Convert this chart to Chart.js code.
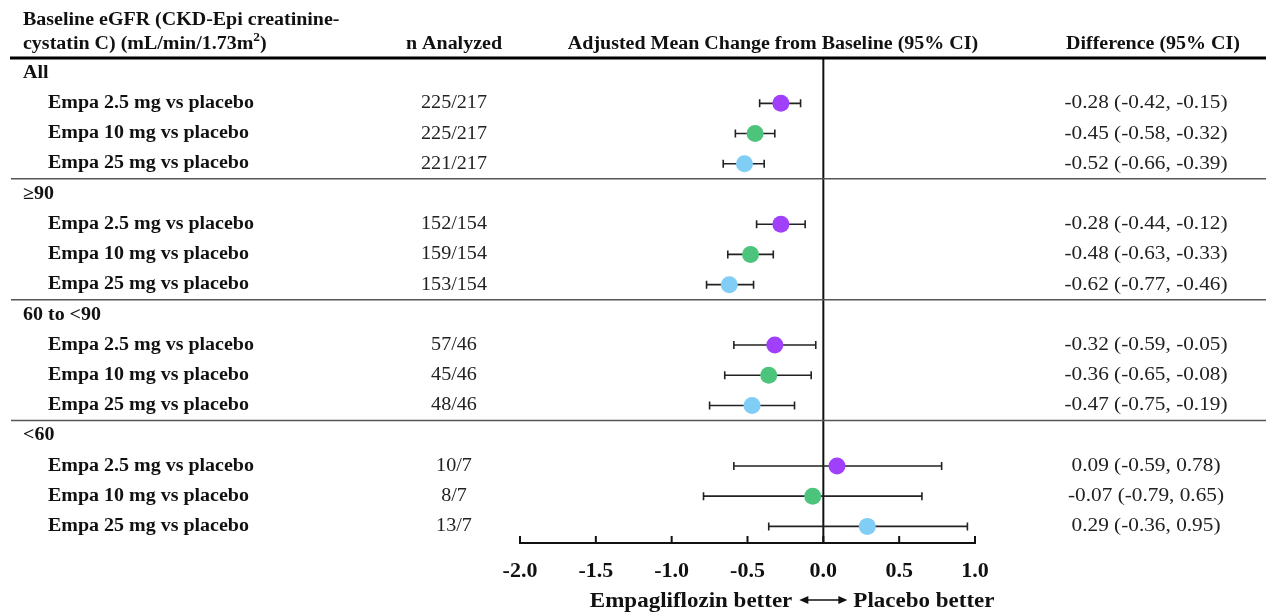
<!DOCTYPE html>
<html>
<head>
<meta charset="utf-8">
<script src="https://cdn.jsdelivr.net/npm/chart.js@4.4.0/dist/chart.umd.min.js"></script>
<style>
  body { margin: 0; background: #fff; }
  #wrap { width: 1266px; height: 612px; position: relative; }
</style>
</head>
<body>
<div id="wrap"><canvas id="forest"></canvas></div>
<script>
// Subgroups and doses
const groups = ['All', '\u226590', '60 to <90', '<60'];
const doses = ['Empa 2.5 mg vs placebo', 'Empa 10 mg vs placebo', 'Empa 25 mg vs placebo'];
const doseColors = ['#a040fb', '#4cc47c', '#80cdf6'];

// n analyzed (empa/placebo) per dose, by subgroup
const n2_5 = ['225/217', '152/154', '57/46', '10/7'];
const n10 = ['225/217', '159/154', '45/46', '8/7'];
const n25 = ['221/217', '153/154', '48/46', '13/7'];

// Difference vs placebo with 95% CI
const diff2_5 = [-0.28, -0.28, -0.32, 0.09];
const lo2_5 = [-0.42, -0.44, -0.59, -0.59];
const hi2_5 = [-0.15, -0.12, -0.05, 0.78];

const diff10 = [-0.45, -0.48, -0.36, -0.07];
const lo10 = [-0.58, -0.63, -0.65, -0.79];
const hi10 = [-0.32, -0.33, -0.08, 0.65];

const diff25 = [-0.52, -0.62, -0.47, 0.29];
const lo25 = [-0.66, -0.77, -0.75, -0.36];
const hi25 = [-0.39, -0.46, -0.19, 0.95];

const xTicks = [-2.0, -1.5, -1.0, -0.5, 0.0, 0.5, 1.0];

const nAll = [n2_5, n10, n25];
const diffAll = [diff2_5, diff10, diff25];
const loAll = [lo2_5, lo10, lo25];
const hiAll = [hi2_5, hi10, hi25];

// row index: each group takes 4 rows (header + 3 doses)
function rowOf(g, d) { return g * 4 + d + 1; }

const datasets = doses.map((name, d) => ({
    label: name,
    data: groups.map((g, gi) => ({
        x: diffAll[d][gi], y: rowOf(gi, d),
        lo: loAll[d][gi], hi: hiAll[d][gi]
    })),
    backgroundColor: doseColors[d],
    borderColor: doseColors[d],
    pointRadius: 8.5,
    pointHoverRadius: 8.5,
    borderWidth: 0
}));

const serif = '"Liberation Serif", "Times New Roman", serif';

function fmt(v) { return v.toFixed(2); }

// text a bit wider than the font, like the source figure
function wideText(ctx, txt, x, y, sx) {
    ctx.save();
    ctx.translate(x, y);
    ctx.scale(sx, 1);
    ctx.fillText(txt, 0, 0);
    ctx.restore();
}

// draws the table, error bars, reference line and axis
const forestPlugin = {
    id: 'forest',
    beforeDatasetsDraw(chart) {
        const ctx = chart.ctx;
        const xs = chart.scales.x, ys = chart.scales.y;
        const area = chart.chartArea;
        ctx.save();
        // zero line
        const x0 = xs.getPixelForValue(0);
        ctx.strokeStyle = '#111';
        ctx.lineWidth = 2;
        ctx.beginPath();
        ctx.moveTo(x0, area.top);
        ctx.lineTo(x0, area.bottom);
        ctx.stroke();
        // error bars
        ctx.strokeStyle = '#222';
        ctx.lineWidth = 1.6;
        chart.data.datasets.forEach(ds => {
            ds.data.forEach(p => {
                const y = ys.getPixelForValue(p.y);
                const a = xs.getPixelForValue(p.lo), b = xs.getPixelForValue(p.hi);
                ctx.beginPath();
                ctx.moveTo(a, y); ctx.lineTo(b, y);
                ctx.moveTo(a, y - 4); ctx.lineTo(a, y + 4);
                ctx.moveTo(b, y - 4); ctx.lineTo(b, y + 4);
                ctx.stroke();
            });
        });
        ctx.restore();
    },
    afterDraw(chart) {
        const ctx = chart.ctx;
        const xs = chart.scales.x, ys = chart.scales.y;
        const area = chart.chartArea;
        const W = chart.width;
        const sx = 1.11;
        ctx.save();

        // headers
        ctx.fillStyle = '#111';
        ctx.font = 'bold 18px ' + serif;
        ctx.textBaseline = 'middle';
        ctx.textAlign = 'left';
        wideText(ctx, 'Baseline eGFR (CKD-Epi creatinine-', 23, 20, sx);
        wideText(ctx, 'cystatin C) (mL/min/1.73m', 23, 44, sx);
        const wBase = ctx.measureText('cystatin C) (mL/min/1.73m').width * sx;
        ctx.font = 'bold 12px ' + serif;
        wideText(ctx, '2', 23 + wBase, 38, sx);
        const w2 = ctx.measureText('2').width * sx;
        ctx.font = 'bold 18px ' + serif;
        wideText(ctx, ')', 23 + wBase + w2, 44, sx);
        ctx.textAlign = 'center';
        wideText(ctx, 'n Analyzed', 454, 44, sx);
        wideText(ctx, 'Adjusted Mean Change from Baseline (95% CI)', 773, 44, sx);
        wideText(ctx, 'Difference (95% CI)', 1153, 44, sx);

        // header rule
        ctx.strokeStyle = '#000';
        ctx.lineWidth = 3;
        ctx.beginPath();
        ctx.moveTo(10, area.top);
        ctx.lineTo(W, area.top);
        ctx.stroke();

        // group separators
        ctx.strokeStyle = '#555';
        ctx.lineWidth = 1.5;
        for (let g = 1; g < groups.length; g++) {
            const y = ys.getPixelForValue(g * 4 - 0.5);
            ctx.beginPath();
            ctx.moveTo(11, y);
            ctx.lineTo(W, y);
            ctx.stroke();
        }

        // rows
        groups.forEach((g, gi) => {
            ctx.font = 'bold 18px ' + serif;
            ctx.textAlign = 'left';
            ctx.fillStyle = '#111';
            wideText(ctx, g, 23, ys.getPixelForValue(gi * 4), sx);
            doses.forEach((d, di) => {
                const y = ys.getPixelForValue(rowOf(gi, di));
                ctx.font = 'bold 18px ' + serif;
                ctx.textAlign = 'left';
                ctx.fillStyle = '#111';
                wideText(ctx, d, 48, y, sx);
                ctx.font = '19px ' + serif;
                ctx.textAlign = 'center';
                ctx.fillStyle = '#222';
                wideText(ctx, nAll[di][gi], 454, y, 1.06);
                const txt = fmt(diffAll[di][gi]) + ' (' + fmt(loAll[di][gi]) + ', ' + fmt(hiAll[di][gi]) + ')';
                wideText(ctx, txt, 1146, y, 1.12);
            });
        });

        // x axis line with upward ticks
        const yb = area.bottom;
        ctx.strokeStyle = '#111';
        ctx.lineWidth = 2;
        ctx.beginPath();
        ctx.moveTo(xs.getPixelForValue(xTicks[0]), yb);
        ctx.lineTo(xs.getPixelForValue(xTicks[xTicks.length - 1]), yb);
        xTicks.forEach(t => {
            const px = xs.getPixelForValue(t);
            ctx.moveTo(px, yb + 1);
            ctx.lineTo(px, yb - 7);
        });
        ctx.stroke();

        // direction label
        const x0 = xs.getPixelForValue(0);
        const yl = 602;
        ctx.font = 'bold 20px ' + serif;
        ctx.fillStyle = '#111';
        ctx.textAlign = 'right';
        wideText(ctx, 'Empagliflozin better', x0 - 31, yl, 1.15);
        ctx.textAlign = 'left';
        wideText(ctx, 'Placebo better', x0 + 30, yl, 1.15);
        ctx.lineWidth = 1.5;
        ctx.beginPath();
        ctx.moveTo(x0 - 22, yl - 2);
        ctx.lineTo(x0 + 22, yl - 2);
        ctx.stroke();
        ctx.beginPath();
        ctx.moveTo(x0 - 24, yl - 2); ctx.lineTo(x0 - 15, yl - 6); ctx.lineTo(x0 - 15, yl + 2); ctx.closePath();
        ctx.moveTo(x0 + 24, yl - 2); ctx.lineTo(x0 + 15, yl - 6); ctx.lineTo(x0 + 15, yl + 2); ctx.closePath();
        ctx.fill();
        ctx.restore();
    }
};

const chart = new Chart(document.getElementById('forest').getContext('2d'), {
    type: 'scatter',
    data: { datasets: datasets },
    options: {
        responsive: true,
        maintainAspectRatio: false,
        animation: false,
        layout: { padding: { left: 520, right: 291, top: 58, bottom: 0 } },
        plugins: { legend: { display: false }, tooltip: { enabled: false } },
        scales: {
            x: {
                type: 'linear',
                min: -2,
                max: 1,
                afterBuildTicks(scale) { scale.ticks = xTicks.map(v => ({ value: v })); },
                afterFit(scale) { scale.height = 69; },
                grid: { display: false, drawTicks: false },
                border: { display: false },
                ticks: {
                    padding: 15,
                    color: '#111',
                    font: { family: serif, size: 22, weight: 'bold' },
                    callback: v => v.toFixed(1)
                }
            },
            y: {
                type: 'linear',
                display: false,
                reverse: true,
                min: -0.5,
                max: 15.55
            }
        }
    },
    plugins: [forestPlugin]
});
</script>
</body>
</html>
